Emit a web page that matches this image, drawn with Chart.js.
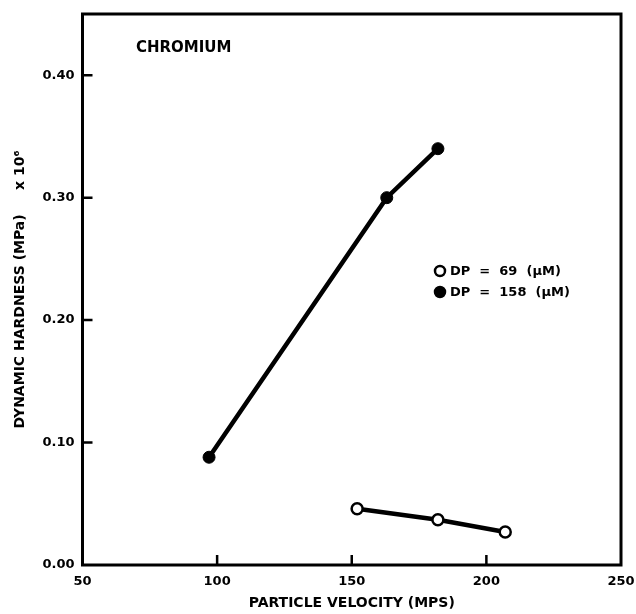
<!DOCTYPE html>
<html lang="en">
<head>
<meta charset="UTF-8">
<title>Chromium dynamic hardness</title>
<style>
  html, body { margin: 0; padding: 0; background: #fff; }
  #wrap { width: 636px; height: 614px; }
</style>
</head>
<body>
<div id="wrap"><canvas id="hardnessChart" width="636" height="614"></canvas></div>
<script src="https://cdn.jsdelivr.net/npm/chart.js@4.4.1/dist/chart.umd.min.js"></script>
<script>
// values
const velocityOpen = [152, 182, 207];
const hardnessOpen = [0.046, 0.037, 0.027];
const velocityFilled = [97, 163, 182];
const hardnessFilled = [0.088, 0.300, 0.340];
const seriesLabels = ['DP  =  69  (\u03bcM)', 'DP  =  158  (\u03bcM)'];
const xTicks = [50, 100, 150, 200, 250];
const yTicks = [0, 0.1, 0.2, 0.3, 0.4];
const yTickLabels = ['0.00', '0.10', '0.20', '0.30', '0.40'];
const plotTitle = 'CHROMIUM';

const FONT = '"DejaVu Sans", "Liberation Sans", Arial, sans-serif';

function toPoints(xs, ys) {
    return xs.map((x, i) => ({ x: x, y: ys[i] }));
}

// box round the plot, inward ticks, title text and the legend
const paperLook = {
    id: 'paperLook',
    beforeDatasetsDraw(chart) {
        const { ctx, chartArea: a, scales } = chart;
        ctx.save();
        ctx.strokeStyle = '#000';
        ctx.lineWidth = 3;
        ctx.strokeRect(a.left, a.top, a.right - a.left, a.bottom - a.top);
        ctx.lineWidth = 2.5;
        ctx.beginPath();
        xTicks.slice(1, -1).forEach(v => {
            const px = scales.x.getPixelForValue(v);
            ctx.moveTo(px, a.bottom);
            ctx.lineTo(px, a.bottom - 10);
        });
        yTicks.slice(1).forEach(v => {
            const py = scales.y.getPixelForValue(v);
            ctx.moveTo(a.left, py);
            ctx.lineTo(a.left + 10, py);
        });
        ctx.stroke();
        ctx.restore();
    },
    afterDraw(chart) {
        const ctx = chart.ctx;
        ctx.save();
        ctx.fillStyle = '#000';
        ctx.font = 'bold 15px ' + FONT;
        ctx.textAlign = 'left';
        ctx.textBaseline = 'middle';
        ctx.fillText(plotTitle, 136, 48);

        // legend
        ctx.font = 'bold 13px ' + FONT;
        chart.data.datasets.forEach((ds, i) => {
            const y = 271 + i * 21;
            ctx.beginPath();
            ctx.arc(440, y, 5, 0, Math.PI * 2);
            ctx.fillStyle = ds.pointBackgroundColor;
            ctx.fill();
            ctx.lineWidth = 2.5;
            ctx.strokeStyle = '#000';
            ctx.stroke();
            ctx.fillStyle = '#000';
            ctx.fillText(ds.label, 450, y + 1);
        });
        ctx.restore();
    }
};

new Chart(document.getElementById('hardnessChart'), {
    type: 'line',
    data: {
        datasets: [{
            label: seriesLabels[0],
            data: toPoints(velocityOpen, hardnessOpen),
            borderColor: '#000',
            borderWidth: 4.5,
            pointRadius: 5.5,
            pointBorderWidth: 2.5,
            pointBackgroundColor: '#fff',
            pointBorderColor: '#000',
            tension: 0,
            clip: false
        }, {
            label: seriesLabels[1],
            data: toPoints(velocityFilled, hardnessFilled),
            borderColor: '#000',
            borderWidth: 4.5,
            pointRadius: 6,
            pointBorderWidth: 1,
            pointBackgroundColor: '#000',
            pointBorderColor: '#000',
            tension: 0,
            clip: false
        }]
    },
    options: {
        responsive: false,
        animation: false,
        layout: { padding: { left: 0, right: 15, top: 14, bottom: 0 } },
        plugins: {
            legend: { display: false },
            tooltip: { enabled: false }
        },
        scales: {
            x: {
                type: 'linear',
                min: 50,
                max: 250,
                afterFit(scale) {
                    scale.height = 49;
                    scale.paddingLeft = 0;
                    scale.paddingRight = 0;
                },
                afterBuildTicks(scale) { scale.ticks = xTicks.map(v => ({ value: v })); },
                grid: { display: false, drawTicks: false },
                border: { display: false },
                ticks: {
                    padding: 9,
                    color: '#000',
                    maxRotation: 0,
                    autoSkip: false,
                    font: { family: FONT, size: 13, weight: 'bold' },
                    callback: v => String(v)
                },
                title: {
                    display: true,
                    text: 'PARTICLE VELOCITY (MPS)',
                    color: '#000',
                    padding: { top: 0, bottom: 2 },
                    font: { family: FONT, size: 14, weight: 'bold' }
                }
            },
            y: {
                type: 'linear',
                min: 0,
                max: 0.45,
                afterFit(scale) {
                    scale.width = 82.5;
                    scale.paddingTop = 0;
                    scale.paddingBottom = 0;
                },
                afterBuildTicks(scale) { scale.ticks = yTicks.map(v => ({ value: v })); },
                grid: { display: false, drawTicks: false },
                border: { display: false },
                ticks: {
                    padding: 8,
                    color: '#000',
                    autoSkip: false,
                    font: { family: FONT, size: 13, weight: 'bold' },
                    callback: (v, i) => yTickLabels[i]
                },
                title: {
                    display: true,
                    text: 'DYNAMIC HARDNESS (MPa)     x 10\u2076',
                    color: '#000',
                    padding: { top: 12, bottom: 0 },
                    font: { family: FONT, size: 14, weight: 'bold' }
                }
            }
        }
    },
    plugins: [paperLook]
});
</script>
</body>
</html>
